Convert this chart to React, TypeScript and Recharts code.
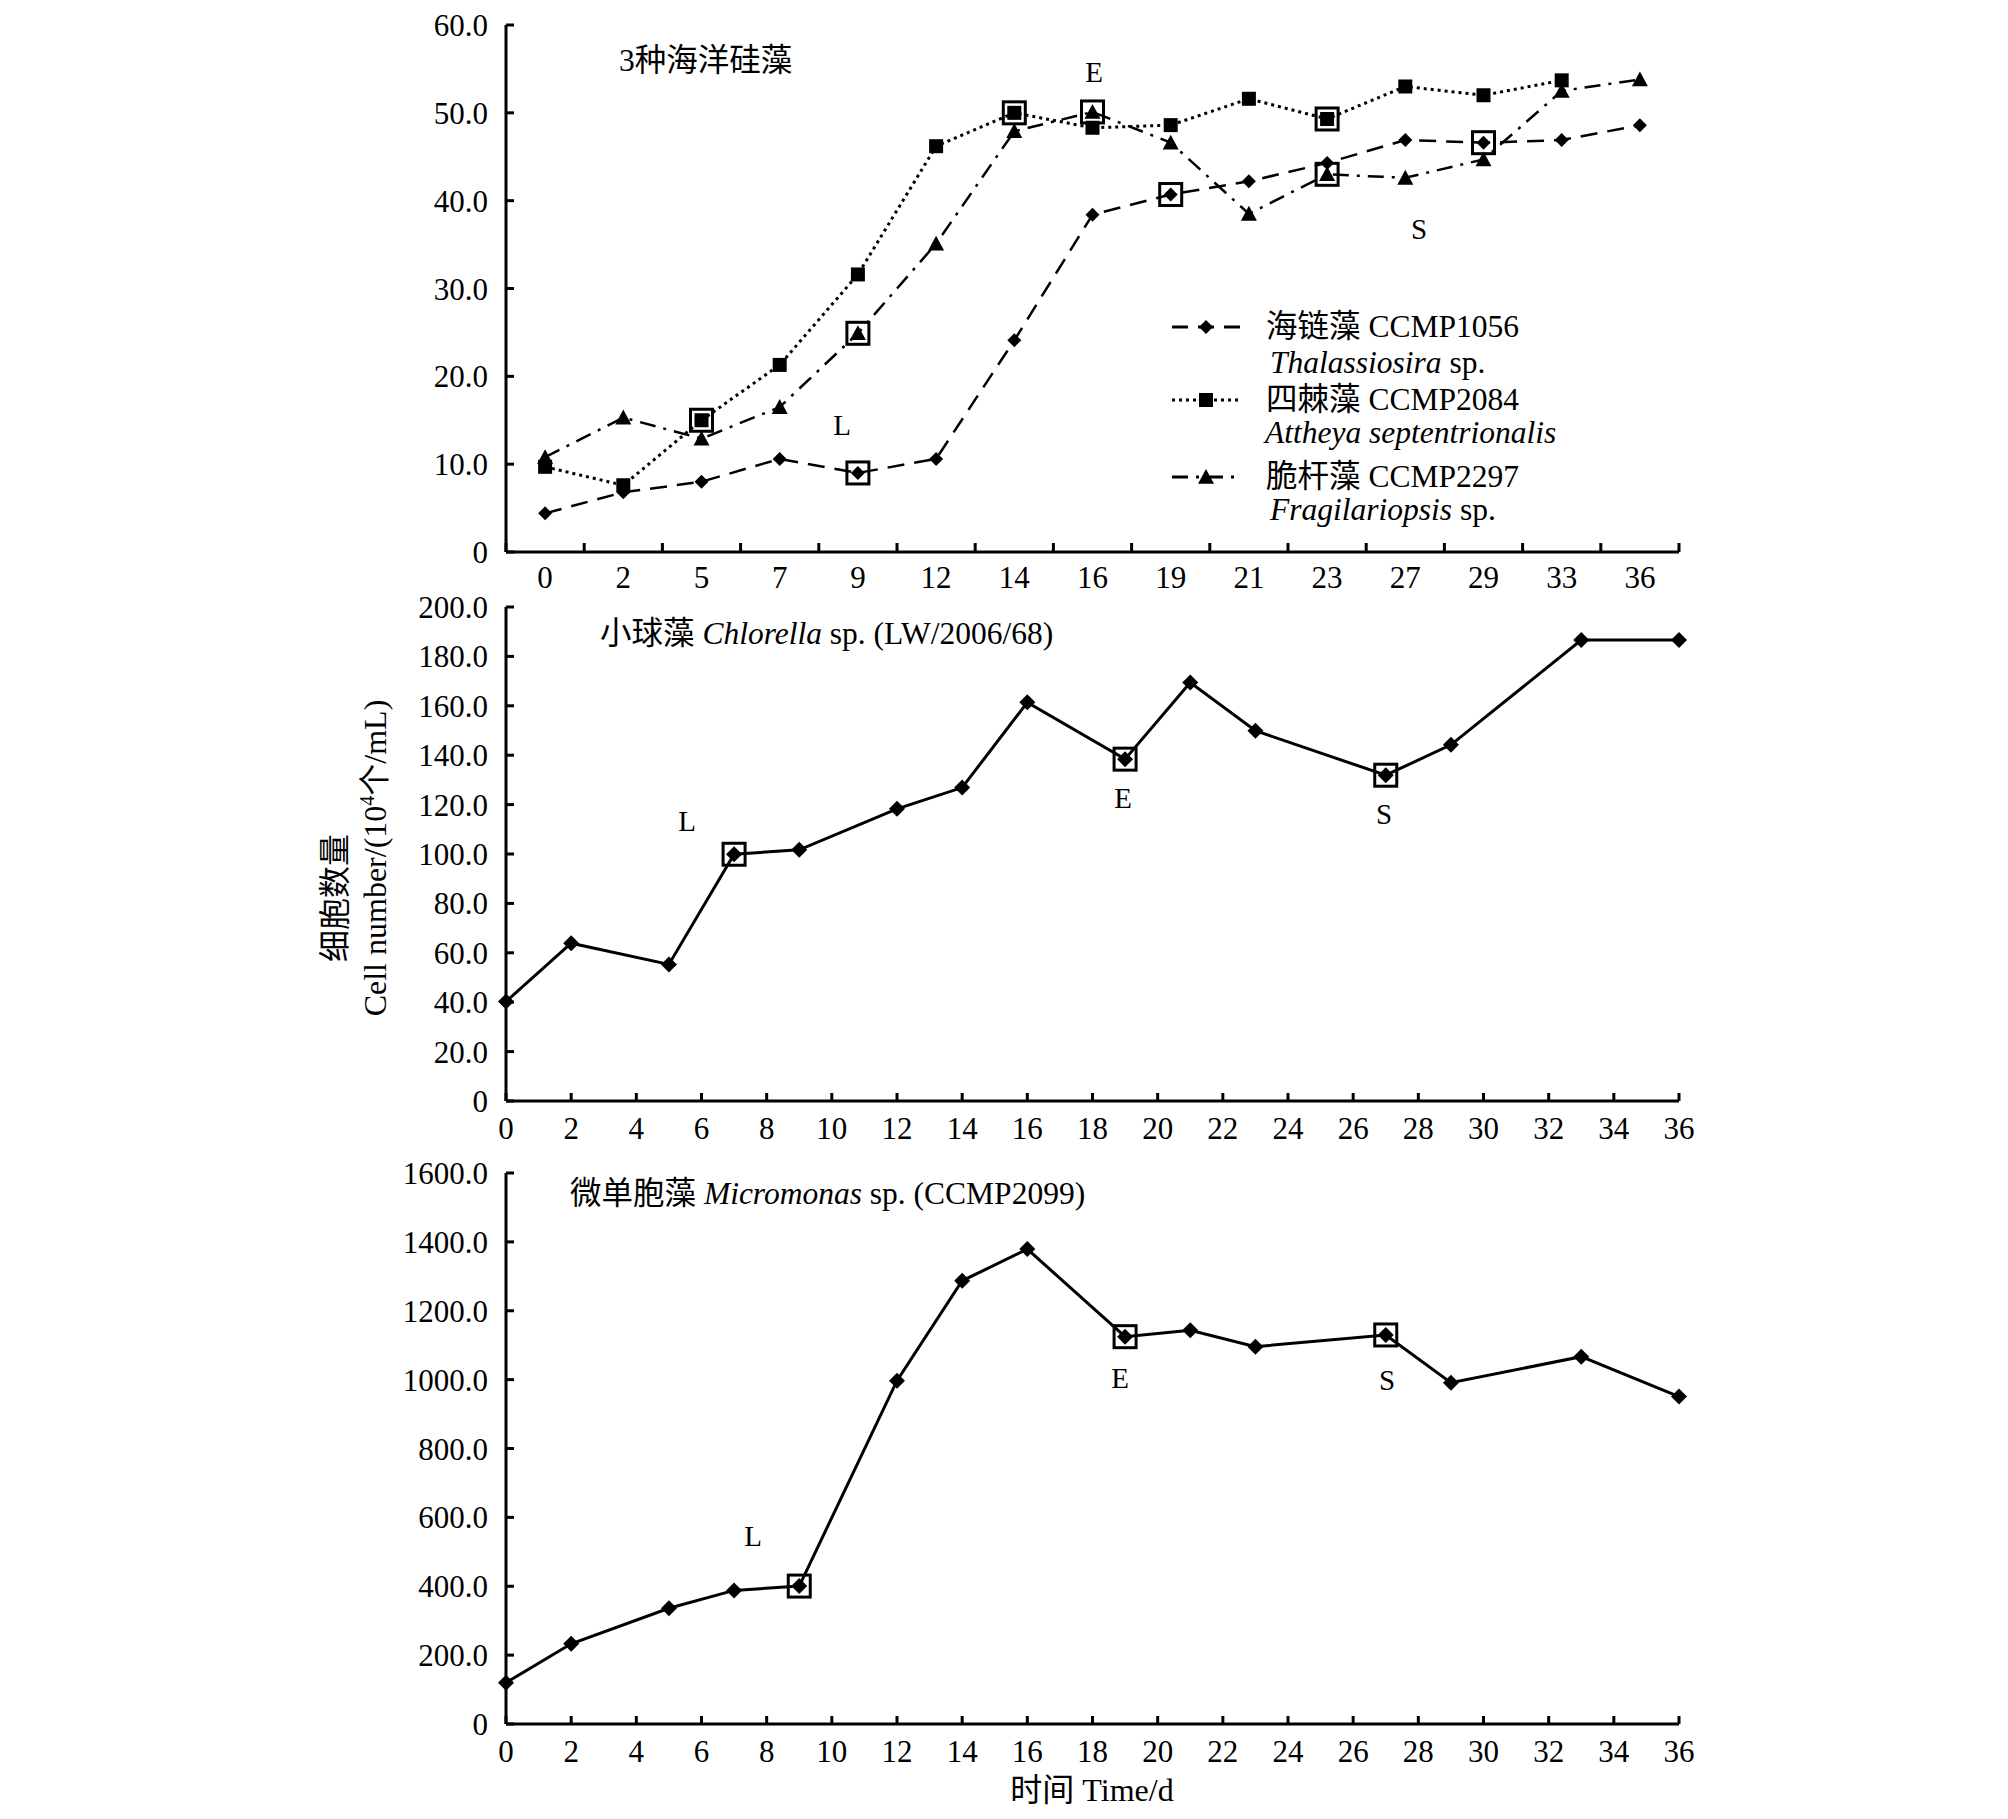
import React from 'react'
import { LineChart, Line, XAxis, YAxis } from 'recharts'

const FONT = "'Liberation Serif', 'Times New Roman', 'Noto Sans CJK SC', serif"

// top panel: three diatoms, uneven sampling days -> evenly spaced slots
const diatomDays = ['0', '2', '5', '7', '9', '12', '14', '16', '19', '21', '23', '27', '29', '33', '36']
const thalassiosira = [4.4, 6.8, 8.0, 10.6, 9.0, 10.6, 24.1, 38.4, 40.7, 42.2, 44.3, 46.9, 46.6, 46.9, 48.6]
const attheya = [9.7, 7.6, 15.0, 21.3, 31.6, 46.2, 50.0, 48.3, 48.6, 51.6, 49.3, 53.0, 52.0, 53.7, null]
const fragilariopsis = [10.8, 15.3, 12.9, 16.5, 24.9, 35.1, 47.9, 50.1, 46.6, 38.5, 43.0, 42.6, 44.7, 52.5, 53.8]
const thalassiosiraPhase = ['9', '19', '29']
const attheyaPhase = ['5', '14', '23']
const fragilariopsisPhase = ['9', '16', '23']
const diatomTicks = [0, 10, 20, 30, 40, 50, 60]

// middle panel
const chlorellaDays = [0, 2, 5, 7, 9, 12, 14, 16, 19, 21, 23, 27, 29, 33, 36]
const chlorella = [40.3, 63.9, 55.3, 99.9, 101.7, 118.3, 126.9, 161.4, 138.4, 169.4, 149.9, 131.9, 144.2, 186.6, 186.6]
const chlorellaPhase = [7, 19, 27]
const chlorellaTicks = [0, 20, 40, 60, 80, 100, 120, 140, 160, 180, 200]

// bottom panel
const micromonasDays = [0, 2, 5, 7, 9, 12, 14, 16, 19, 21, 23, 27, 29, 33, 36]
const micromonas = [119.6, 233, 336, 388, 400.5, 997, 1287, 1379, 1124.7, 1143.6, 1095.7, 1129.7, 991, 1066.7, 950.9]
const micromonasPhase = [9, 19, 27]
const micromonasTicks = [0, 200, 400, 600, 800, 1000, 1200, 1400, 1600]

const dayTicks = [0, 2, 4, 6, 8, 10, 12, 14, 16, 18, 20, 22, 24, 26, 28, 30, 32, 34, 36]

const diatomData = diatomDays.map((day, i) => ({
  i,
  day,
  thal: thalassiosira[i],
  att: attheya[i],
  frag: fragilariopsis[i]
}))
const chlorellaData = chlorellaDays.map((day, i) => ({ day, v: chlorella[i] }))
const micromonasData = micromonasDays.map((day, i) => ({ day, v: micromonas[i] }))

// slot centres for labels, slot edges for tick marks
const diatomSlotTicks: number[] = []
for (let k = -0.5; k <= diatomDays.length - 0.5; k += 0.5) diatomSlotTicks.push(k)

type Shape = 'diamond' | 'square' | 'triangle'

function drawShape(shape: Shape, cx: number, cy: number, r: number) {
  if (shape === 'diamond') {
    return <polygon points={`${cx},${cy - r} ${cx + r},${cy} ${cx},${cy + r} ${cx - r},${cy}`} fill="#000" />
  }
  if (shape === 'square') {
    return <rect x={cx - r} y={cy - r} width={r * 2} height={r * 2} fill="#000" />
  }
  return <polygon points={`${cx},${cy - r} ${cx + r},${cy + r * 0.85} ${cx - r},${cy + r * 0.85}`} fill="#000" />
}

const makeDot = (shape: Shape, r: number, phase: (string | number)[]) => (props: any) => {
  const { cx, cy, payload, index, value } = props
  if (cx == null || cy == null || value == null) return <g key={`d-${index}`} />
  const boxed = phase.includes(payload.day)
  return (
    <g key={`d-${index}`}>
      {drawShape(shape, cx, cy, r)}
      {boxed && <rect x={cx - 11} y={cy - 11} width={22} height={22} fill="none" stroke="#000" strokeWidth={3} />}
    </g>
  )
}

const fmt = (v: number) => (v === 0 ? '0' : v.toFixed(1))

const axisStroke = { stroke: '#000', strokeWidth: 3 }
const tickFont = { fill: '#000', fontSize: 31, fontFamily: FONT }

const DiatomTick = (props: any) => {
  const { x, y, payload } = props
  const v = payload.value
  if (Number.isInteger(v)) {
    return (
      <text x={x} y={y + 36} textAnchor="middle" fill="#000" fontSize={31} fontFamily={FONT}>
        {diatomDays[v]}
      </text>
    )
  }
  return <line x1={x} x2={x} y1={y} y2={y - 9} stroke="#000" strokeWidth={3} />
}

const Txt = ({ left, top, center, size = 31.5, children }: any) => (
  <div
    style={{
      position: 'absolute',
      left,
      top,
      transform: center ? 'translate(-50%, -50%)' : 'translateY(-50%)',
      fontFamily: FONT,
      fontSize: size,
      lineHeight: 1,
      whiteSpace: 'nowrap',
      color: '#000'
    }}
  >
    {children}
  </div>
)

const It = ({ children }: any) => <span style={{ fontStyle: 'italic' }}>{children}</span>

const legendItems = [
  { y: 27, dash: '16 10', shape: 'diamond' as Shape, r: 7 },
  { y: 100, dash: '3 4', shape: 'square' as Shape, r: 7 },
  { y: 177, dash: '16 8 3 8', shape: 'triangle' as Shape, r: 8 }
]

const yTitle = {
  position: 'absolute' as const,
  top: 858,
  transform: 'translate(-50%, -50%) rotate(-90deg)',
  fontFamily: FONT,
  fontSize: 32,
  lineHeight: 1,
  whiteSpace: 'nowrap' as const
}

export default function App() {
  return (
    <div style={{ position: 'absolute', left: 0, top: 0, width: 2008, height: 1819, background: '#fff' }}>
      <div style={{ position: 'absolute', left: 0, top: 0 }}>
        <LineChart width={2008} height={600} data={diatomData} margin={{ top: 25, right: 329, left: 0, bottom: 0 }}>
          <XAxis
            dataKey="i"
            type="number"
            domain={[-0.5, diatomDays.length - 0.5]}
            ticks={diatomSlotTicks}
            interval={0}
            tickLine={false}
            tickSize={0}
            tickMargin={0}
            axisLine={axisStroke}
            tick={<DiatomTick />}
            height={48}
          />
          <YAxis
            type="number"
            domain={[0, 60]}
            ticks={diatomTicks}
            interval={0}
            tickFormatter={fmt}
            width={506}
            axisLine={axisStroke}
            tickLine={axisStroke}
            tickSize={-8}
            tickMargin={26}
            tick={tickFont}
          />
          <Line
            dataKey="thal"
            type="linear"
            stroke="#000"
            strokeWidth={2.5}
            strokeDasharray="17 10"
            dot={makeDot('diamond', 7, thalassiosiraPhase)}
            isAnimationActive={false}
          />
          <Line
            dataKey="att"
            type="linear"
            stroke="#000"
            strokeWidth={3}
            strokeDasharray="3 4"
            dot={makeDot('square', 7, attheyaPhase)}
            isAnimationActive={false}
          />
          <Line
            dataKey="frag"
            type="linear"
            stroke="#000"
            strokeWidth={2.5}
            strokeDasharray="16 8 3 8"
            dot={makeDot('triangle', 8, fragilariopsisPhase)}
            isAnimationActive={false}
          />
        </LineChart>
      </div>

      <div style={{ position: 'absolute', left: 0, top: 580 }}>
        <LineChart width={2008} height={580} data={chlorellaData} margin={{ top: 27, right: 329, left: 0, bottom: 11 }}>
          <XAxis
            dataKey="day"
            type="number"
            domain={[0, 36]}
            ticks={dayTicks}
            interval={0}
            axisLine={axisStroke}
            tickLine={axisStroke}
            tickSize={-8}
            tickMargin={24}
            tick={tickFont}
            height={48}
          />
          <YAxis
            type="number"
            domain={[0, 200]}
            ticks={chlorellaTicks}
            interval={0}
            tickFormatter={fmt}
            width={506}
            axisLine={axisStroke}
            tickLine={axisStroke}
            tickSize={-8}
            tickMargin={26}
            tick={tickFont}
          />
          <Line
            dataKey="v"
            type="linear"
            stroke="#000"
            strokeWidth={3}
            dot={makeDot('diamond', 8, chlorellaPhase)}
            isAnimationActive={false}
          />
        </LineChart>
      </div>

      <div style={{ position: 'absolute', left: 0, top: 1150 }}>
        <LineChart width={2008} height={669} data={micromonasData} margin={{ top: 23, right: 329, left: 0, bottom: 47 }}>
          <XAxis
            dataKey="day"
            type="number"
            domain={[0, 36]}
            ticks={dayTicks}
            interval={0}
            axisLine={axisStroke}
            tickLine={axisStroke}
            tickSize={-8}
            tickMargin={24}
            tick={tickFont}
            height={48}
          />
          <YAxis
            type="number"
            domain={[0, 1600]}
            ticks={micromonasTicks}
            interval={0}
            tickFormatter={fmt}
            width={506}
            axisLine={axisStroke}
            tickLine={axisStroke}
            tickSize={-8}
            tickMargin={26}
            tick={tickFont}
          />
          <Line
            dataKey="v"
            type="linear"
            stroke="#000"
            strokeWidth={3}
            dot={makeDot('diamond', 8, micromonasPhase)}
            isAnimationActive={false}
          />
        </LineChart>
      </div>

      {/* legend of the top panel */}
      <svg style={{ position: 'absolute', left: 1165, top: 300 }} width={90} height={220}>
        {legendItems.map((it) => (
          <g key={it.y}>
            <line x1={7} x2={75} y1={it.y} y2={it.y} stroke="#000" strokeWidth={3} strokeDasharray={it.dash} />
            {drawShape(it.shape, 41, it.y, it.r)}
          </g>
        ))}
      </svg>
      <Txt left={1266} top={327}>海链藻 CCMP1056</Txt>
      <Txt left={1270} top={363}><It>Thalassiosira</It> sp.</Txt>
      <Txt left={1266} top={400}>四棘藻 CCMP2084</Txt>
      <Txt left={1265} top={433}><It>Attheya septentrionalis</It></Txt>
      <Txt left={1266} top={477}>脆杆藻 CCMP2297</Txt>
      <Txt left={1270} top={510}><It>Fragilariopsis</It> sp.</Txt>

      {/* panel titles */}
      <Txt left={619} top={61}>3种海洋硅藻</Txt>
      <Txt left={600} top={634}>小球藻 <It>Chlorella</It> sp. (LW/2006/68)</Txt>
      <Txt left={570} top={1194}>微单胞藻 <It>Micromonas</It> sp. (CCMP2099)</Txt>

      {/* growth phase letters */}
      <Txt left={842} top={425} center size={29}>L</Txt>
      <Txt left={1094} top={72} center size={29}>E</Txt>
      <Txt left={1419} top={229} center size={29}>S</Txt>
      <Txt left={687} top={821} center size={29}>L</Txt>
      <Txt left={1123} top={798} center size={29}>E</Txt>
      <Txt left={1384} top={814} center size={29}>S</Txt>
      <Txt left={753} top={1536} center size={29}>L</Txt>
      <Txt left={1120} top={1378} center size={29}>E</Txt>
      <Txt left={1387} top={1380} center size={29}>S</Txt>

      {/* axis titles */}
      <Txt left={1092} top={1790} center size={32}>时间 Time/d</Txt>
      <div style={{ ...yTitle, left: 335, top: 898 }}>细胞数量</div>
      <div style={{ ...yTitle, left: 374 }}>
        Cell number/(10<sup style={{ fontSize: 20 }}>4</sup>个/mL)
      </div>
    </div>
  )
}
